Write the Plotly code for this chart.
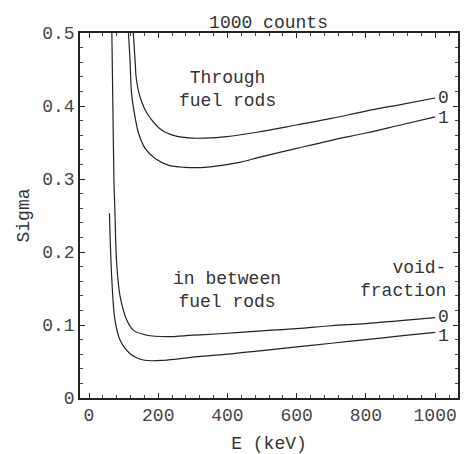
import plotly.graph_objects as go

# Energy (keV) and Sigma for each curve, 1000 counts
# Through fuel rods, void fraction 0
e_thr0 = [128, 133, 137, 147, 162, 181, 210, 249, 297, 335, 398, 485, 600, 700, 800, 900, 1000]
s_thr0 = [0.500, 0.463, 0.436, 0.413, 0.395, 0.381, 0.367, 0.359, 0.356, 0.356, 0.358, 0.364, 0.374, 0.383, 0.393, 0.402, 0.411]
# Through fuel rods, void fraction 1
e_thr1 = [114, 118.5, 123, 133, 143, 162, 191, 229, 277, 335, 427, 494, 600, 700, 800, 900, 1000]
s_thr1 = [0.500, 0.463, 0.417, 0.385, 0.363, 0.342, 0.328, 0.319, 0.316, 0.316, 0.322, 0.330, 0.342, 0.353, 0.363, 0.374, 0.385]
# In between fuel rods, void fraction 0
e_btw0 = [66, 69, 72, 75, 80, 90, 109, 128, 167, 225, 300, 379, 500, 600, 700, 800, 900, 1000]
s_btw0 = [0.500, 0.400, 0.299, 0.253, 0.184, 0.139, 0.107, 0.093, 0.086, 0.084, 0.086, 0.088, 0.092, 0.095, 0.099, 0.102, 0.106, 0.110]
# In between fuel rods, void fraction 1
e_btw1 = [59, 66, 75, 90, 118, 157, 225, 321, 379, 500, 600, 700, 800, 900, 1000]
s_btw1 = [0.253, 0.162, 0.107, 0.079, 0.061, 0.052, 0.052, 0.057, 0.059, 0.065, 0.070, 0.075, 0.080, 0.085, 0.090]

# (energies, sigmas, end label, vertical nudge of the label in px)
curves = [(e_thr0, s_thr0, "0", 0), (e_thr1, s_thr1, "1", -1),
          (e_btw0, s_btw0, "0", 1), (e_btw1, s_btw1, "1", -4)]

x_ticks = [0, 200, 400, 600, 800, 1000]
y_ticks = [0, 0.1, 0.2, 0.3, 0.4, 0.5]
y_tick_text = ["0", "0.1", "0.2", "0.3", "0.4", "0.5"]

FONT = "Liberation Mono"
INK = "#333333"

fig = go.Figure()
for e, s, lab, nudge in curves:
    fig.add_trace(go.Scatter(x=e, y=s, mode="lines",
                             line=dict(color="#222222", width=1.2, shape="spline", smoothing=1.0),
                             showlegend=False, hoverinfo="skip"))
    fig.add_annotation(x=e[-1], y=s[-1], text=lab, showarrow=False,
                       xanchor="left", yanchor="middle", xshift=1, yshift=nudge,
                       font=dict(family=FONT, size=18, color=INK))

text_font = dict(family=FONT, size=18, color=INK)
fig.add_annotation(x=399, y=0.423, text="Through<br>fuel rods", showarrow=False,
                   align="center", font=text_font)
fig.add_annotation(x=400, y=0.147, text="in between<br>fuel rods", showarrow=False,
                   align="center", font=text_font)
fig.add_annotation(x=1037, y=0.163, text="void-<br>fraction", showarrow=False,
                   align="right", xanchor="right", font=text_font)

# margins are fixed (autoexpand off), automargin only enables title standoff
axis_common = dict(showline=True, linecolor="#222222", linewidth=1.5, mirror="allticks",
                   ticks="inside", ticklen=5, tickcolor="#222222", tickwidth=1,
                   showgrid=False, zeroline=False, automargin=True,
                   tickfont=dict(family=FONT, size=18, color="#444444"))

fig.update_xaxes(range=[-26, 1066], tickvals=x_ticks,
                 minor=dict(ticks="inside", dtick=40, tick0=0, ticklen=3, tickcolor="#444444", showgrid=False),
                 title=dict(text="E (keV)", font=dict(family=FONT, size=18, color=INK), standoff=14),
                 **axis_common)
fig.update_yaxes(range=[0, 0.5], tickvals=y_ticks, ticktext=y_tick_text,
                 minor=dict(ticks="inside", dtick=0.02, tick0=0, ticklen=3, tickcolor="#444444", showgrid=False),
                 title=dict(text="Sigma", font=dict(family=FONT, size=18, color=INK), standoff=8),
                 **axis_common)

fig.update_layout(
    width=467, height=454,
    margin=dict(l=80, r=9, t=33, b=56, autoexpand=False),
    paper_bgcolor="white", plot_bgcolor="white",
    title=dict(text="1000 counts", x=0.575, xanchor="center", y=0.952, yanchor="middle",
               font=dict(family=FONT, size=18, color=INK)),
)

fig.write_html("out.html")
